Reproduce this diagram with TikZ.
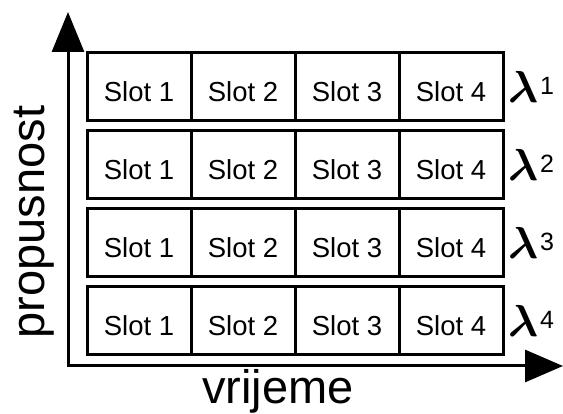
\documentclass[tikz,border=0pt]{standalone}
\usepackage{bm}
\usepackage{graphicx}
\usepackage{fontspec}
\setmainfont{Liberation Sans}
\usetikzlibrary{arrows.meta}
\newcommand{\biglam}{\scalebox{1.8}{\fontsize{24.88}{28}\selectfont$\bm{\lambda}$}}
\begin{document}
\begin{tikzpicture}[x=1pt,y=-1pt,
  cell/.style={draw, line width=3pt, minimum width=104pt, minimum height=68pt,
    inner sep=0pt, text height=30pt, text depth=0pt, font=\fontsize{27.5}{30}\selectfont},
  lam/.style={anchor=base west, inner sep=0pt},
  axis/.style={line width=3pt, {Triangle[length=40pt,width=32pt]}-{Triangle[length=38pt,width=32pt]}},
  axlabel/.style={font=\fontsize{47}{50}\selectfont, inner sep=0pt}]
\useasboundingbox (0,0) rectangle (563,414);
\coordinate (ytip) at (68,12);
\coordinate (corner) at (68,366);
\coordinate (xtip) at (563,366);
\draw[axis] (ytip) -- (corner) -- (xtip);
\foreach \r/\yy in {1/87,2/165,3/243,4/321}{
  \foreach \c/\xx in {1/139,2/243,3/347,4/451}{
    \node[cell] (c\r\c) at (\xx,\yy) {Slot \c};
  }
  \node[lam] (l\r) at (508,\yy+16) {\biglam\hspace{2pt}\raisebox{8pt}{\fontsize{25}{27}\selectfont \r}};
}
\node[axlabel, rotate=90] (ylab) at (34,222) {propusnost};
\node[axlabel, anchor=base] (xlab) at (278,403) {vrijeme};
\end{tikzpicture}
\end{document}
